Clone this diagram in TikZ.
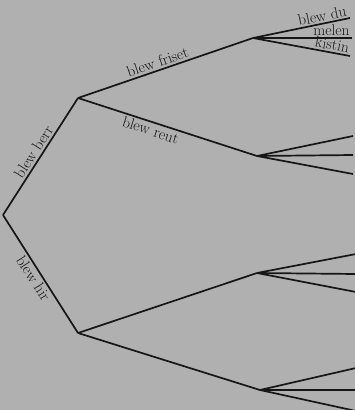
\documentclass[tikz,border=0pt]{standalone}
\usepackage{tikz}
\usetikzlibrary{positioning}
\usepackage{xcolor}
\definecolor{page}{RGB}{176,176,176}
\definecolor{ink}{RGB}{22,22,22}

\begin{document}
\begin{tikzpicture}[x=1pt, y=-1pt,
    branch/.style={draw=ink, line width=1.7pt},
    lbl/.style={sloped, font=\fontsize{15.5}{18}\selectfont, text=ink, inner sep=2pt},
    leaflbl/.style={lbl, pos=1, anchor=south east, inner sep=1.5pt}]
      % Page
      \fill[page] (0,0) rectangle (355,410);
      \useasboundingbox (0,0) rectangle (355,410);

      % Branch points
      \coordinate (root) at (3,215);
      \coordinate (berr) at (78,98);
      \coordinate (hir) at (78,333);
      \coordinate (friset) at (253,38);
      \coordinate (reut) at (257,156);
      \coordinate (hirA) at (257,273);
      \coordinate (hirB) at (260,390);

      % Leaves
      \coordinate (du) at (350,18);
      \coordinate (melen) at (352,38);
      \coordinate (kistin) at (350,56);
      \coordinate (reut1) at (353,136);
      \coordinate (reut2) at (353,155);
      \coordinate (reut3) at (353,174);
      \coordinate (hirA1) at (356,254);
      \coordinate (hirA2) at (356,274);
      \coordinate (hirA3) at (356,292);
      \coordinate (hirB1) at (356,368);
      \coordinate (hirB2) at (356,390);
      \coordinate (hirB3) at (356,411);

      % First split
      \draw[branch] (root) -- node[lbl, above, pos=0.5] {blew berr} (berr);
      \draw[branch] (root) -- node[lbl, below, pos=0.5] {blew hir} (hir);

      % Second split
      \draw[branch] (berr) -- node[lbl, above, pos=0.47] {blew friset} (friset);
      \draw[branch] (berr) -- node[lbl, below, pos=0.42] {blew reut} (reut);
      \draw[branch] (hir) -- (hirA);
      \draw[branch] (hir) -- (hirB);

      % Leaves
      \draw[branch] (friset) -- node[leaflbl] {blew du} (du);
      \draw[branch] (friset) -- node[leaflbl] {melen} (melen);
      \draw[branch] (friset) -- node[leaflbl] {kistin} (kistin);
      \foreach \p in {reut, hirA, hirB}
        \foreach \i in {1,2,3}
          \draw[branch] (\p) -- (\p\i);
    \end{tikzpicture}
\end{document}
